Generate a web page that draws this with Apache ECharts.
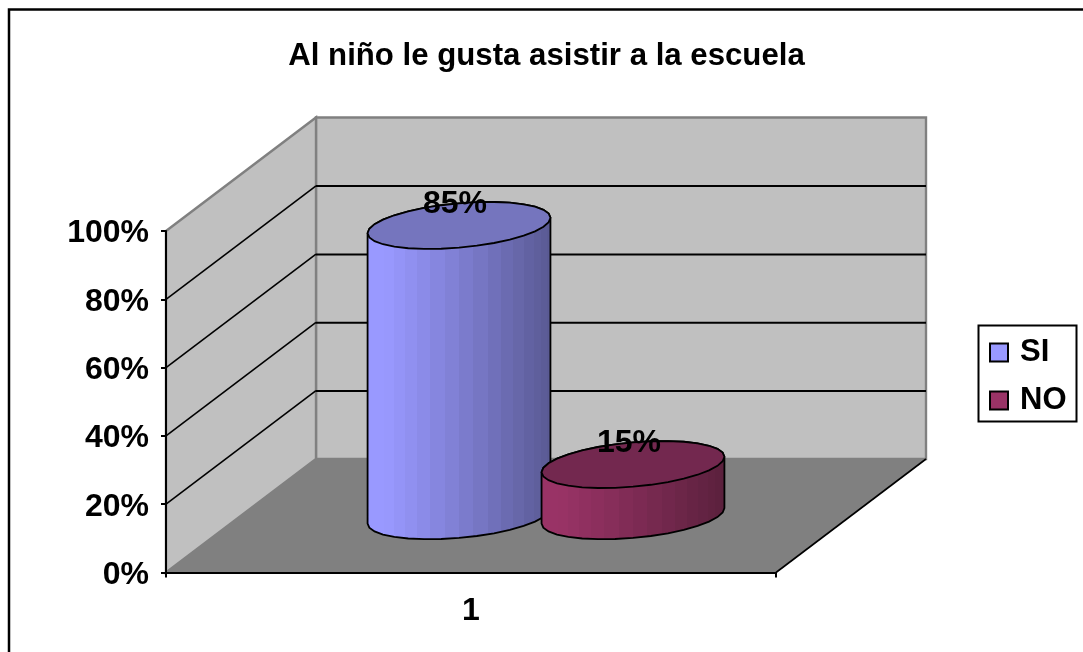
<!DOCTYPE html>
<html>
<head>
<meta charset="utf-8">
<style>html,body{margin:0;padding:0;background:#fff}#c{width:1083px;height:652px}</style>
<script src="https://cdn.jsdelivr.net/npm/echarts@6/dist/echarts.min.js"></script>
</head>
<body>
<div id="c"></div>
<script>
var titleText = 'Al niño le gusta asistir a la escuela';
var categories = ['1'];
var siValues = [85];
var noValues = [15];
var yTicks = [0, 20, 40, 60, 80, 100];

var FONT = '"Liberation Sans", Arial, sans-serif';
var DX = 150, DY = 113.5;
var chart = echarts.init(document.getElementById('c'), null, {renderer: 'canvas'});

function sceneItem(params, api) {
  var v = api.value(1);
  var p = api.coord([api.value(0), v]);
  var band = api.size([1, 0])[0];
  var l = p[0] - band / 2, r = p[0] + band / 2, y = p[1];
  var children = [];
  if (v === 0) {
    var top = api.coord([0, 100])[1];
    children.push({type: 'polygon', shape: {points: [[l + DX, top - DY], [r + DX, top - DY], [r + DX, y - DY], [l + DX, y - DY]]},
      style: {fill: '#C0C0C0', stroke: '#808080', lineWidth: 2.4}});
    children.push({type: 'polygon', shape: {points: [[l, top], [l + DX, top - DY], [l + DX, y - DY], [l, y]]},
      style: {fill: '#C0C0C0', stroke: '#808080', lineWidth: 2.4}});
    children.push({type: 'polygon', shape: {points: [[l, y], [r, y], [r + DX, y - DY], [l + DX, y - DY]]},
      style: {fill: '#808080', stroke: '#808080', lineWidth: 1}});
    children.push({type: 'line', shape: {x1: r, y1: y, x2: r + DX, y2: y - DY}, style: {stroke: '#000', lineWidth: 1.6}});
  } else if (v < 100) {
    children.push({type: 'polyline', shape: {points: [[l, y], [l + DX, y - DY]]},
      style: {fill: null, stroke: '#000', lineWidth: 1.6}});
    children.push({type: 'line', shape: {x1: l + DX, y1: y - DY + 0.3, x2: r + DX, y2: y - DY + 0.3},
      style: {stroke: '#000', lineWidth: 2}});
  }
  return {type: 'group', children: children};
}

function bandedFill(side, dark) {
  var stops = [], M = 20, k;
  for (k = 0; k < M; k++) {
    var x0 = (1 - Math.cos(Math.PI * k / M)) / 2, x1 = (1 - Math.cos(Math.PI * (k + 1) / M)) / 2;
    var c = echarts.color.lerp(Math.max(0, (x0 - 0.08) / 0.92), [side, dark]);
    stops.push({offset: x0, color: c}, {offset: x1, color: c});
  }
  return new echarts.graphic.LinearGradient(0, 0, 1, 0, stops);
}

function cylinderItem(offset, side, cap, dark) {
  return function (params, api) {
    var band = api.size([1, 0])[0];
    var base = api.coord([api.value(0), 0]);
    var topP = api.coord([api.value(0), api.value(1)]);
    var cx = base[0] + DX / 2 + offset * band;
    var by = base[1] - DY / 2, ty = topP[1] - DY / 2;
    var a = 86.3, b = 30.2, d = 23.5;
    function ring(cy, t) { return [cx + a * Math.cos(t) + b * Math.sin(t), cy - d * Math.sin(t)]; }
    var t0 = Math.atan2(b, a), N = 32, i, capPts = [], body = [];
    for (i = 0; i < N; i++) capPts.push(ring(ty, t0 + 2 * Math.PI * i / N));
    for (i = 0; i <= N / 2; i++) body.push(ring(ty, t0 + Math.PI * i / (N / 2)));
    for (i = 0; i <= N / 2; i++) body.push(ring(by, t0 + Math.PI + Math.PI * i / (N / 2)));
    return {type: 'group', children: [
      {type: 'polygon', shape: {points: body}, style: {fill: bandedFill(side, dark), stroke: '#000', lineWidth: 1.8}},
      {type: 'polygon', shape: {points: capPts}, style: {fill: cap, stroke: '#000', lineWidth: 1.8}},
      {type: 'text', style: {text: api.value(1) + '%', x: cx - 4, y: ty - 21, align: 'center', verticalAlign: 'middle',
        font: 'bold 32px ' + FONT, fill: '#000'}}
    ]};
  };
}

function toData(values) { return values.map(function (v, i) { return [i, v]; }); }

chart.setOption({
  animation: false,
  backgroundColor: '#fff',
  title: {text: titleText, left: 541.5, top: 36, textAlign: 'center',
    textStyle: {fontFamily: FONT, fontWeight: 'bold', fontSize: 31.2, color: '#000'}},
  grid: {left: 166, right: 307, top: 231, bottom: 79.5},
  xAxis: {type: 'category', data: categories, z: 5,
    axisLine: {lineStyle: {color: '#000', width: 2}},
    axisTick: {show: true, length: 5, alignWithLabel: false, lineStyle: {color: '#000', width: 2}},
    axisLabel: {margin: 23, color: '#000', fontFamily: FONT, fontWeight: 'bold', fontSize: 32}},
  yAxis: {type: 'value', min: 0, max: 100, interval: 20, z: 5,
    axisLine: {show: true, lineStyle: {color: '#000', width: 2}},
    axisTick: {show: true, length: 5, lineStyle: {color: '#000', width: 2}},
    splitLine: {show: false},
    axisLabel: {margin: 17, color: '#000', fontFamily: FONT, fontWeight: 'bold', fontSize: 32, formatter: '{value}%', verticalAlign: 'top', lineHeight: 5}},
  legend: {orient: 'vertical', left: 978.5, top: 325.5, padding: [10, 10, 4, 10.5], itemGap: 14,
    data: [{name: 'SI', icon: 'rect'}, {name: 'NO', icon: 'rect'}], itemWidth: 18, itemHeight: 18,
    backgroundColor: '#fff', borderColor: '#000', borderWidth: 2, borderRadius: 0,
    textStyle: {fontFamily: FONT, fontWeight: 'bold', fontSize: 31, lineHeight: 34, color: '#000', padding: [0, 0, 0, 7]}},
  graphic: [{type: 'rect', silent: true, shape: {x: 9, y: 9.5, width: 1200, height: 800},
    style: {fill: null, stroke: '#000', lineWidth: 2.5}, z: -1}],
  series: [
    {type: 'custom', name: 'scene', renderItem: sceneItem, data: yTicks.map(function (t) { return [0, t]; }), z: 1, silent: true},
    {type: 'custom', name: 'SI', renderItem: cylinderItem(-0.1426, '#9999FF', '#7575BE', '#585890'), data: toData(siValues), z: 2,
      itemStyle: {color: '#9999FF', borderColor: '#000', borderWidth: 2}},
    {type: 'custom', name: 'NO', renderItem: cylinderItem(0.1426, '#993366', '#73284F', '#59203C'), data: toData(noValues), z: 3,
      itemStyle: {color: '#993366', borderColor: '#000', borderWidth: 2}}
  ]
});
</script>
</body>
</html>
